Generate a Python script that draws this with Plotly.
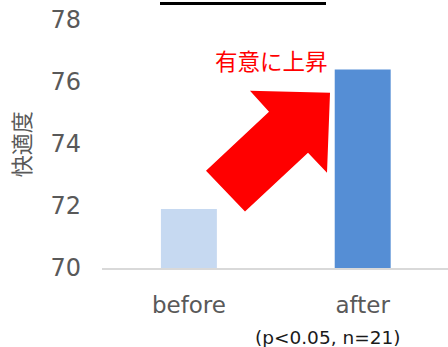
import plotly.graph_objects as go

categories = ["before", "after"]
values = [71.9, 76.4]
bar_colors = ["#c6d9f1", "#558ed5"]
y_ticks = [70, 72, 74, 76, 78]

W, H = 448, 347
ML, MR, MT, MB = 102, 0, 20, 78.5
PW, PH = W - ML - MR, H - MT - MB


def px2paper(x, y):
    return (x - ML) / PW, (H - MB - y) / PH


fig = go.Figure()
fig.add_trace(go.Bar(
    x=categories, y=values, marker=dict(color=bar_colors, line=dict(width=0)),
    width=0.322,
))

# red arrow (decoration)
arrow_px = [(250, 91), (330, 93), (327, 173), (308, 153), (245, 212), (206, 171), (269, 112)]
pts = [px2paper(x, y) for x, y in arrow_px]
path = "M " + " L ".join(f"{a:.4f},{b:.4f}" for a, b in pts) + " Z"
fig.add_shape(type="path", path=path, xref="paper", yref="paper",
              fillcolor="#ff0000", line=dict(width=0), layer="above")

# top underline (clipped title)
x0, y0 = px2paper(160, 3.5)
x1, _ = px2paper(326, 3.5)
fig.add_shape(type="line", x0=x0, x1=x1, y0=y0, y1=y0, xref="paper", yref="paper",
              line=dict(color="black", width=3))

tx, ty = px2paper(271.5, 60)
fig.add_annotation(text="有意に上昇", x=tx, y=ty, xref="paper", yref="paper",
                   showarrow=False, font=dict(family="Noto Sans CJK JP", size=22.5, color="#ff0000"),
                   xanchor="center", yanchor="middle")

tx, ty = px2paper(19.5, 145)
fig.add_annotation(text="快適度", x=tx, y=ty, xref="paper", yref="paper", textangle=-90,
                   showarrow=False, font=dict(family="Noto Sans CJK JP", size=22, color="#595959"),
                   xanchor="center", yanchor="middle")

tx, ty = px2paper(327, 338)
fig.add_annotation(text="(p<0.05, n=21)", x=tx, y=ty, xref="paper", yref="paper",
                   showarrow=False, font=dict(family="DejaVu Sans", size=18.5, color="#1a1a1a"),
                   xanchor="center", yanchor="middle")

fig.update_layout(
    width=W, height=H,
    margin=dict(l=ML, r=MR, t=MT, b=MB, pad=0),
    paper_bgcolor="white", plot_bgcolor="white",
    showlegend=False,
    font=dict(family="DejaVu Sans", color="#595959"),
    xaxis=dict(range=[-0.5, -0.5 + PW / 173.8], showline=True, linecolor="#d9d9d9", linewidth=2,
               showgrid=False, ticks="", tickfont=dict(size=23, color="#595959"),
               ticklabelstandoff=15, fixedrange=True),
    yaxis=dict(range=[70, 78], tickvals=y_ticks, showgrid=False, zeroline=False, showline=False,
               ticks="", tickfont=dict(size=24, color="#595959"), ticklabelstandoff=20,
               fixedrange=True),
)

fig.write_html("out.html", config={"displayModeBar": False})
